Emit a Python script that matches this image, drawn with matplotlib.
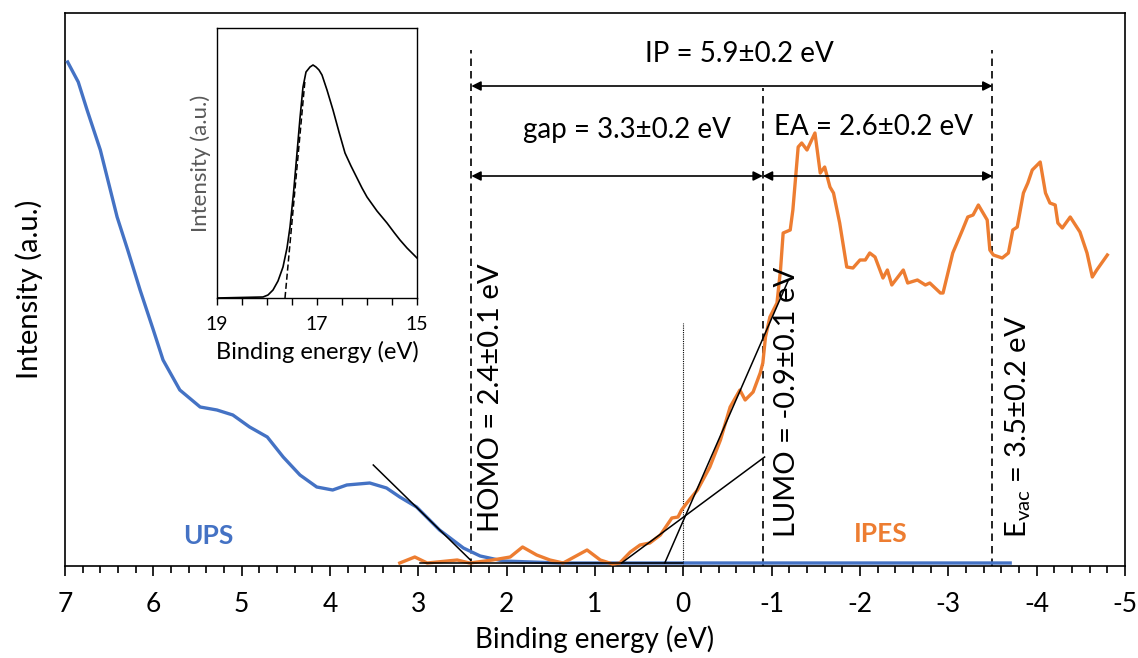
import matplotlib
matplotlib.use('Agg')
from matplotlib import pyplot as plt
from matplotlib.ticker import MultipleLocator, NullLocator

plt.rcParams['font.family'] = ['Lato', 'DejaVu Sans']
plt.rcParams['mathtext.fontset'] = 'custom'
plt.rcParams['mathtext.rm'] = 'Lato'
plt.rcParams['mathtext.default'] = 'regular'
plt.rcParams['axes.unicode_minus'] = False

# UPS spectrum (binding energy in eV, intensity a.u.)
ups_e = [6.97, 6.85, 6.75, 6.60, 6.41, 6.29, 6.15, 6.00, 5.89, 5.70, 5.47, 5.28, 5.10, 4.91,
         4.71, 4.53, 4.34, 4.15, 3.97, 3.81, 3.55, 3.36, 3.21, 3.02, 2.76, 2.49, 2.30, 2.04,
         1.40, -3.70]
ups_i = [504, 484, 456, 416, 349, 316, 276, 236, 206, 176, 159, 156, 151, 139,
         129, 109, 91, 79, 76, 81, 83, 78, 69, 59, 36, 18, 10, 5,
         3, 3]

# IPES spectrum
ipes_e = [3.21, 3.04, 2.90, 2.56, 2.42, 2.16, 1.96, 1.82, 1.66, 1.51, 1.36, 1.09, 0.94, 0.80,
          0.72, 0.60, 0.49, 0.38, 0.26, 0.13, 0.06, 0.02, -0.04, -0.16, -0.30, -0.42, -0.53,
          -0.64, -0.70, -0.79, -0.87, -0.90, -0.93, -0.98, -1.06, -1.10, -1.13, -1.21, -1.24,
          -1.30, -1.34, -1.40, -1.49, -1.55, -1.60, -1.66, -1.70, -1.77, -1.85, -1.92, -2.00,
          -2.06, -2.11, -2.17, -2.26, -2.31, -2.36, -2.49, -2.54, -2.65, -2.74, -2.79, -2.91,
          -2.94, -3.05, -3.16, -3.22, -3.28, -3.34, -3.44, -3.47, -3.51, -3.61, -3.68, -3.73,
          -3.78, -3.85, -3.90, -3.95, -4.04, -4.10, -4.15, -4.21, -4.24, -4.29, -4.38, -4.49,
          -4.57, -4.63, -4.68, -4.80]
ipes_i = [3, 9, 3, 6, 3, 6, 9, 19, 11, 6, 3, 16, 6, 2,
          3, 14, 21, 23, 31, 48, 49, 56, 63, 76, 99, 126, 159,
          176, 166, 174, 193, 203, 229, 249, 263, 296, 333, 336, 356,
          419, 423, 416, 433, 393, 399, 379, 373, 343, 299, 298, 306,
          306, 313, 309, 288, 296, 281, 296, 283, 286, 281, 283, 273,
          273, 313, 336, 349, 351, 361, 346, 316, 311, 308, 313, 336,
          339, 373, 383, 396, 404, 373, 363, 361, 343, 338, 349, 334,
          313, 289, 296, 311]

# linear fits (onset extrapolations)
ups_fit_e = [3.51, 2.41]
ups_fit_i = [101, 6]
base_e = [2.98, 0.0]
base_i = [3, 3]
ipes_fit1_e = [0.21, -1.19]
ipes_fit1_i = [3, 286]
ipes_fit2_e = [0.70, -0.92]
ipes_fit2_i = [3, 109]

# level positions (eV)
homo = 2.4
lumo = -0.9
evac = -3.5

# secondary electron cutoff inset
cut_e = [19.0, 18.08, 17.98, 17.88, 17.78, 17.68, 17.60, 17.54, 17.47, 17.40, 17.34, 17.28,
         17.22, 17.14, 17.08, 17.02, 16.96, 16.90, 16.80, 16.68, 16.56, 16.44, 16.32, 16.20,
         16.10, 16.00, 15.80, 15.60, 15.45, 15.34, 15.20, 15.00]
cut_i = [0, 1, 3, 8, 17, 31, 50, 71, 105, 145, 180, 211,
         226, 231, 233, 231, 228, 223, 208, 188, 166, 145, 132, 120,
         110, 101, 87, 75, 65, 58, 50, 40]
cut_fit_e = [17.64, 17.24]
cut_fit_i = [0, 218]

blue = '#4472C4'
orange = '#ED7D31'

fig = plt.figure(figsize=(11.38, 6.58), dpi=100)
ax = fig.add_axes([65 / 1138, 92 / 658, 1060 / 1138, 553 / 658])

ax.plot(ups_e, ups_i, color=blue, lw=2.4, zorder=3)
ax.plot(ipes_e, ipes_i, color=orange, lw=2.4, zorder=3)
for fe, fi in [(ups_fit_e, ups_fit_i), (base_e, base_i), (ipes_fit1_e, ipes_fit1_i),
               (ipes_fit2_e, ipes_fit2_i)]:
    ax.plot(fe, fi, color='black', lw=1.1, zorder=4)

ax.plot([0, 0], [0, 243], color='black', lw=0.8, ls=(0, (1, 1)))
ax.plot([homo, homo], [0, 516], color='black', lw=1.2, ls=(0, (4.5, 3)))
ax.plot([lumo, lumo], [0, 478], color='black', lw=1.2, ls=(0, (4.5, 3)))
ax.plot([evac, evac], [0, 516], color='black', lw=1.2, ls=(0, (4.5, 3)))

arrow = dict(arrowstyle='<|-|>', color='black', lw=1.2, mutation_scale=14, shrinkA=0, shrinkB=0)
ax.annotate('', xy=(evac, 480), xytext=(homo, 480), arrowprops=arrow)
ax.annotate('', xy=(lumo, 390), xytext=(homo, 390), arrowprops=arrow)
ax.annotate('', xy=(evac, 390), xytext=(lumo, 390), arrowprops=arrow)

ax.text(-0.64, 512, 'IP = 5.9±0.2 eV', fontsize=20, ha='center', va='center')
ax.text(0.64, 436, 'gap = 3.3±0.2 eV', fontsize=20, ha='center', va='center')
ax.text(-2.15, 439, 'EA = 2.6±0.2 eV', fontsize=20, ha='center', va='center')
ax.text(2.18, 168, 'HOMO = 2.4±0.1 eV', fontsize=21, rotation=90, ha='center', va='center')
ax.text(-1.17, 164, 'LUMO = -0.9±0.1 eV', fontsize=21, rotation=90, ha='center', va='center')
ax.text(-3.79, 139, r'$E_{vac}$ = 3.5±0.2 eV', fontsize=21, rotation=90, ha='center', va='center')
ax.text(5.38, 30, 'UPS', fontsize=19, fontweight='bold', color=blue, ha='center', va='center')
ax.text(-2.23, 32, 'IPES', fontsize=19, fontweight='bold', color=orange, ha='center', va='center')

ax.set_xlim(7, -5)
ax.set_ylim(0, 553)
ax.xaxis.set_major_locator(MultipleLocator(1))
ax.xaxis.set_minor_locator(MultipleLocator(0.2))
ax.yaxis.set_major_locator(NullLocator())
ax.tick_params(axis='x', which='major', direction='out', length=7, width=1.2, labelsize=19, pad=12)
ax.tick_params(axis='x', which='minor', direction='out', length=5, width=1.2)
for sp in ax.spines.values():
    sp.set_linewidth(1.2)
ax.set_xlabel('Binding energy (eV)', fontsize=20, labelpad=6)
ax.set_ylabel('Intensity (a.u.)', fontsize=21, labelpad=16)

# inset
ins = fig.add_axes([217 / 1138, 360 / 658, 200 / 1138, 270 / 658])
ins.plot(cut_e, cut_i, color='black', lw=1.2)
ins.plot(cut_fit_e, cut_fit_i, color='black', lw=1.1, ls=(0, (4, 2)))
ins.set_xlim(19, 15)
ins.set_ylim(0, 270)
ins.set_xticks([19, 17, 15])
ins.xaxis.set_minor_locator(MultipleLocator(0.5))
ins.yaxis.set_major_locator(NullLocator())
ins.tick_params(axis='x', which='both', direction='out', length=5, width=1.0, labelsize=14, pad=8)
for sp in ins.spines.values():
    sp.set_linewidth(1.0)
ins.set_xlabel('Binding energy (eV)', fontsize=17, labelpad=6)
ins.set_ylabel('Intensity (a.u.)', fontsize=16, color='#595959', labelpad=4)

fig.savefig('out.png', dpi=100)
